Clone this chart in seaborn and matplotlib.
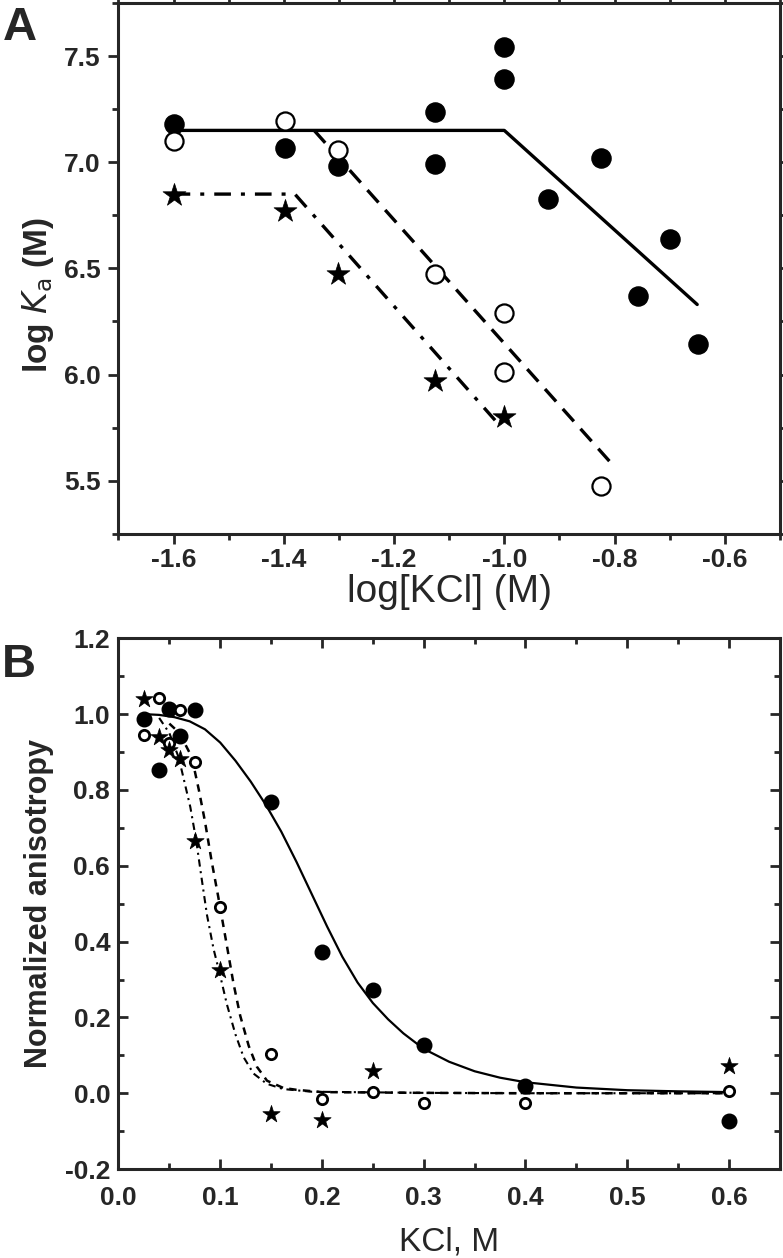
import matplotlib
matplotlib.use("Agg")
import numpy as np
import pandas as pd
import matplotlib.pyplot as plt
import seaborn as sns
from matplotlib.ticker import MultipleLocator

# ---- panel A: log Ka vs log[KCl] ----
a_x_filled = [-1.6, -1.398, -1.301, -1.125, -1.125, -1.0, -1.0, -0.921, -0.824, -0.757, -0.699, -0.648]
a_y_filled = [7.18, 7.065, 6.98, 7.235, 6.99, 7.545, 7.39, 6.825, 7.02, 6.37, 6.64, 6.145]
a_x_open = [-1.6, -1.398, -1.301, -1.125, -1.0, -1.0, -0.824]
a_y_open = [7.10, 7.195, 7.06, 6.475, 6.29, 6.01, 5.475]
a_x_star = [-1.6, -1.398, -1.301, -1.125, -1.0]
a_y_star = [6.845, 6.77, 6.475, 5.97, 5.80]

a_fit_solid_x = [-1.6, -1.0, -0.65]
a_fit_solid_y = [7.15, 7.15, 6.33]
a_fit_dash_x = [-1.345, -0.80]
a_fit_dash_y = [7.15, 5.565]
a_fit_dashdot_x = [-1.6, -1.38, -1.01]
a_fit_dashdot_y = [6.85, 6.85, 5.765]

# ---- panel B: normalized anisotropy vs KCl ----
b_x_filled = [0.025, 0.04, 0.05, 0.06, 0.075, 0.15, 0.2, 0.25, 0.3, 0.4, 0.6]
b_y_filled = [0.986, 0.853, 1.014, 0.942, 1.012, 0.767, 0.372, 0.271, 0.126, 0.018, -0.073]
b_x_open = [0.025, 0.04, 0.05, 0.06, 0.075, 0.1, 0.15, 0.2, 0.25, 0.3, 0.4, 0.6]
b_y_open = [0.945, 1.042, 0.923, 1.010, 0.874, 0.490, 0.103, -0.014, 0.002, -0.027, -0.025, 0.005]
b_x_star = [0.025, 0.04, 0.05, 0.06, 0.075, 0.1, 0.15, 0.2, 0.25, 0.6]
b_y_star = [1.040, 0.940, 0.906, 0.882, 0.666, 0.326, -0.055, -0.071, 0.059, 0.073]

b_fit_solid_x = [0.025, 0.04, 0.055, 0.07, 0.085, 0.1, 0.115, 0.13, 0.145, 0.16, 0.175,
                 0.19, 0.205, 0.22, 0.235, 0.25, 0.265, 0.28, 0.3, 0.325, 0.35, 0.375,
                 0.4, 0.45, 0.5, 0.55, 0.6]
b_fit_solid_y = [1.0, 0.998, 0.992, 0.981, 0.96, 0.925, 0.877, 0.822, 0.76, 0.69, 0.61,
                 0.525, 0.44, 0.36, 0.292, 0.238, 0.195, 0.158, 0.117, 0.083, 0.058, 0.041,
                 0.029, 0.015, 0.008, 0.005, 0.003]
b_fit_dash_x = [0.05, 0.06, 0.072, 0.079, 0.085, 0.0915, 0.098, 0.1065, 0.113, 0.1196,
                0.128, 0.136, 0.146, 0.162, 0.175, 0.2, 0.3, 0.4, 0.6]
b_fit_dash_y = [0.975, 0.95, 0.887, 0.80, 0.717, 0.613, 0.519, 0.39, 0.29, 0.205,
                0.125, 0.07, 0.033, 0.014, 0.009, 0.003, 0.001, 0.0, 0.0]
b_fit_dashdot_x = [0.04, 0.05, 0.059, 0.0624, 0.0706, 0.0765, 0.081, 0.087, 0.0935, 0.1,
                   0.1065, 0.115, 0.123, 0.1327, 0.1457, 0.162, 0.19, 0.3, 0.4, 0.6]
b_fit_dashdot_y = [0.99, 0.95, 0.887, 0.849, 0.755, 0.665, 0.58, 0.47, 0.38, 0.31,
                   0.235, 0.155, 0.095, 0.052, 0.025, 0.011, 0.004, 0.001, 0.0, 0.0]

sns.set_theme(style="ticks")
plt.rcParams['font.family'] = ['Liberation Sans', 'DejaVu Sans']
plt.rcParams['axes.linewidth'] = 2.2

fig = plt.figure(figsize=(7.83, 12.58), dpi=100)
axA = fig.add_axes([0.1513, 0.5757, 0.8447, 0.4219])
axB = fig.add_axes([0.1513, 0.0707, 0.8447, 0.4219])


def fit_line(ax, xs, ys, lw, dashes):
    df = pd.DataFrame({'x': xs, 'y': ys})
    sns.lineplot(data=df, x='x', y='y', ax=ax, color='black', lw=lw,
                 sort=False, estimator=None, dashes=False)
    if dashes is not None:
        ax.lines[-1].set_dashes(dashes)
        ax.lines[-1].set_dash_capstyle('butt')


def points(ax, xs, ys, marker, filled, size, ew):
    df = pd.DataFrame({'x': xs, 'y': ys})
    sns.scatterplot(data=df, x='x', y='y', ax=ax, marker=marker, s=size,
                    facecolor='black' if filled else 'white',
                    edgecolor='black', linewidth=ew, zorder=3)


# panel A
fit_line(axA, a_fit_solid_x, a_fit_solid_y, 2.4, None)
fit_line(axA, a_fit_dash_x, a_fit_dash_y, 2.4, (5, 3))
fit_line(axA, a_fit_dashdot_x, a_fit_dashdot_y, 2.4, (5, 3, 1.2, 3))
points(axA, a_x_filled, a_y_filled, 'o', True, 190, 1.0)
points(axA, a_x_open, a_y_open, 'o', False, 170, 1.6)
points(axA, a_x_star, a_y_star, '*', True, 300, 0.5)

axA.set_xlim(-1.7, -0.5)
axA.set_ylim(5.25, 7.75)
axA.set_xticks([-1.6, -1.4, -1.2, -1.0, -0.8, -0.6])
axA.set_xticklabels(['-1.6', '-1.4', '-1.2', '-1.0', '-0.8', '-0.6'])
axA.set_yticks([5.5, 6.0, 6.5, 7.0, 7.5])
axA.set_yticklabels(['5.5', '6.0', '6.5', '7.0', '7.5'])
axA.xaxis.set_minor_locator(MultipleLocator(0.1))
axA.yaxis.set_minor_locator(MultipleLocator(0.25))
axA.tick_params(which='both', direction='out', top=True, right=True, width=2.0)
axA.tick_params(which='major', length=7)
axA.tick_params(which='minor', length=4)
axA.tick_params(axis='y', pad=6)
axA.tick_params(axis='x', pad=3)
axA.set_xlabel('log[KCl] (M)', fontsize=28, labelpad=2)
axA.set_ylabel(r'log $\mathit{K}_{\mathrm{a}}$ (M)', fontsize=24, fontweight='bold')
axA.yaxis.set_label_coords(-0.095, 0.45)

# panel B
fit_line(axB, b_fit_solid_x, b_fit_solid_y, 1.6, None)
fit_line(axB, b_fit_dash_x, b_fit_dash_y, 1.8, (3, 2.5))
fit_line(axB, b_fit_dashdot_x, b_fit_dashdot_y, 1.5, (3.5, 2.2, 1, 2.2))
points(axB, b_x_filled, b_y_filled, 'o', True, 110, 1.0)
points(axB, b_x_open, b_y_open, 'o', False, 55, 2.0)
points(axB, b_x_star, b_y_star, '*', True, 170, 0.5)

axB.set_xlim(0.0, 0.65)
axB.set_ylim(-0.2, 1.2)
axB.set_xticks([0.0, 0.1, 0.2, 0.3, 0.4, 0.5, 0.6])
axB.set_xticklabels(['0.0', '0.1', '0.2', '0.3', '0.4', '0.5', '0.6'])
axB.set_yticks([-0.2, 0.0, 0.2, 0.4, 0.6, 0.8, 1.0, 1.2])
axB.set_yticklabels(['-0.2', '0.0', '0.2', '0.4', '0.6', '0.8', '1.0', '1.2'])
axB.xaxis.set_minor_locator(MultipleLocator(0.05))
axB.yaxis.set_minor_locator(MultipleLocator(0.1))
axB.tick_params(which='both', direction='in', top=True, right=True, width=2.0)
axB.tick_params(which='major', length=7)
axB.tick_params(which='minor', length=4)
axB.tick_params(axis='x', pad=12)
axB.tick_params(axis='y', pad=6)
axB.set_xlabel('KCl, M', fontsize=24, labelpad=12)
axB.set_ylabel('Normalized anisotropy', fontsize=22, fontweight='bold', labelpad=8)

for ax in (axA, axB):
    for lab in ax.get_xticklabels() + ax.get_yticklabels():
        lab.set_fontsize(19)
        lab.set_fontweight('bold')
    for sp in ax.spines.values():
        sp.set_linewidth(2.2)
        sp.set_visible(True)

fig.text(0.003, 0.995, 'A', fontsize=34, fontweight='bold', va='top', ha='left')
fig.text(0.003, 0.489, 'B', fontsize=34, fontweight='bold', va='top', ha='left')

fig.savefig('out.png', dpi=100)
